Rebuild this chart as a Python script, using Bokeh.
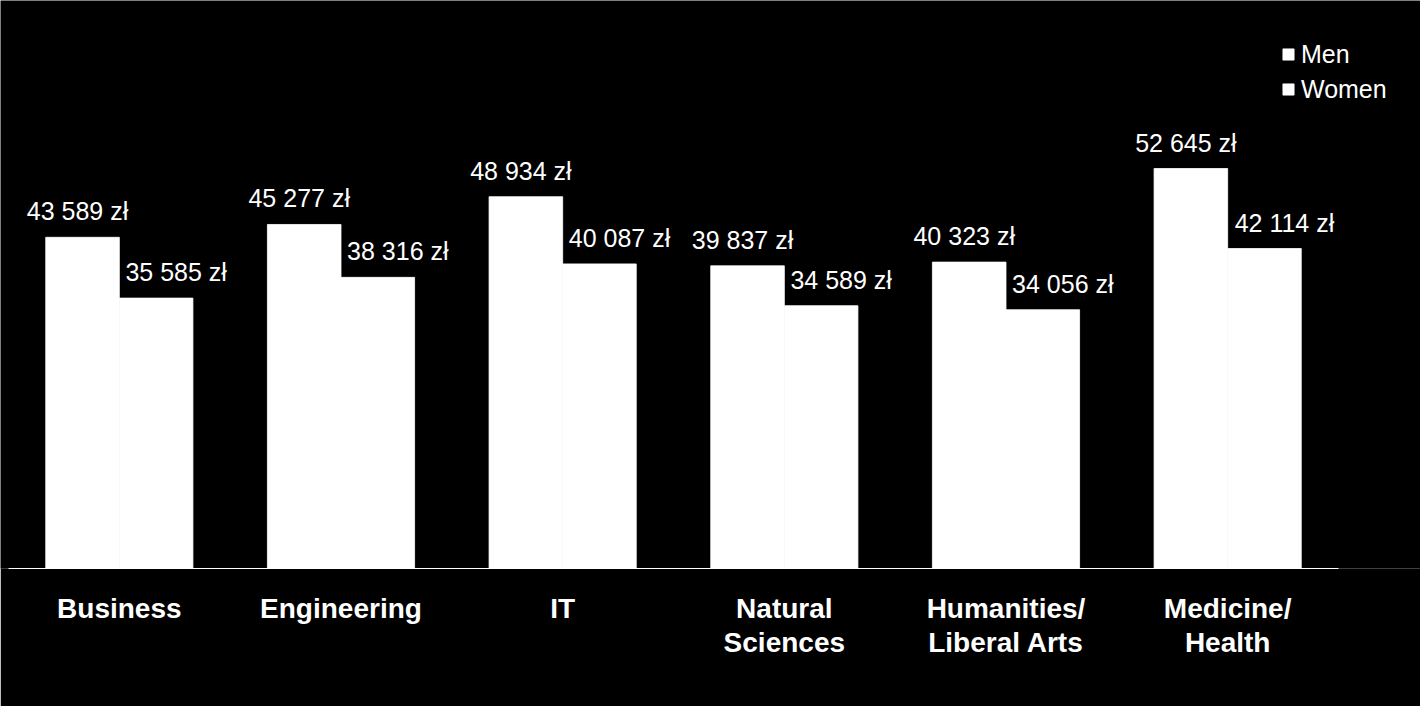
from bokeh.plotting import figure
from bokeh.models import ColumnDataSource, Range1d, Legend, LegendItem, FixedTicker
from bokeh.transform import dodge
from bokeh.embed import file_html
from bokeh.resources import INLINE
from bokeh.core.properties import value

categories = ["Business", "Engineering", "IT", "Natural\nSciences",
              "Humanities/\nLiberal Arts", "Medicine/\nHealth"]
men = [43589, 45277, 48934, 39837, 40323, 52645]
women = [35585, 38316, 40087, 34589, 34056, 42114]


def fmt(v):
    return f"{v:,}".replace(",", " ") + " zł"


n = len(categories)
centers = [i + 0.5 for i in range(n)]

src = ColumnDataSource(data=dict(
    x=centers, men=men, women=women,
    men_lbl=[fmt(v) for v in men], women_lbl=[fmt(v) for v in women],
))

# layout geometry (pixels)
PAGE_W, PAGE_H = 1420, 706
LEFT_PAD, CAT_W = 8, 1330
AXIS_Y = 568
PX_PER_UNIT = 400 / 52645  # bar pixels per zloty

ppc = CAT_W / n  # pixels per category
p = figure(width=PAGE_W, height=PAGE_H, output_backend="svg", toolbar_location=None,
           x_range=Range1d(-LEFT_PAD / ppc, (PAGE_W - LEFT_PAD) / ppc),
           y_range=Range1d(0, AXIS_Y / PX_PER_UNIT),
           min_border_left=0, min_border_right=0, min_border_top=0,
           min_border_bottom=PAGE_H - AXIS_Y,
           background_fill_color="black", border_fill_color="black")
p.outline_line_color = None
p.xgrid.visible = False
p.ygrid.visible = False
p.yaxis.visible = False

bw = 0.332
r_men = p.vbar(x=dodge("x", -bw / 2), top="men", width=bw, source=src,
               fill_color="white", line_color="white", line_width=0.8)
r_women = p.vbar(x=dodge("x", bw / 2), top="women", width=bw, source=src,
                 fill_color="white", line_color="white", line_width=0.8)

p.text(x=dodge("x", -bw / 2), y="men", text="men_lbl", source=src,
       text_color="white", text_font=value("Liberation Sans"), text_font_size="25px",
       text_align="center", text_baseline="alphabetic", x_offset=-5, y_offset=-26)
p.text(x=dodge("x", bw / 2), y="women", text="women_lbl", source=src,
       text_color="white", text_font=value("Liberation Sans"), text_font_size="25px",
       text_align="center", text_baseline="alphabetic", x_offset=20, y_offset=-26)

ax = p.xaxis[0]
ax.bounds = (0, n)
ax.ticker = FixedTicker(ticks=centers, minor_ticks=[])
ax.major_label_overrides = {c: lab for c, lab in zip(centers, categories)}
ax.axis_line_color = "white"
ax.axis_line_width = 1
ax.major_tick_line_color = None
ax.minor_tick_line_color = None
ax.major_tick_out = 0
ax.major_tick_in = 0
ax.major_label_standoff = 24
ax.major_label_text_color = "white"
ax.major_label_text_font = "Liberation Sans"
ax.major_label_text_font_style = "bold"
ax.major_label_text_font_size = "28px"
ax.major_label_text_line_height = 1.1

legend = Legend(items=[LegendItem(label="Men", renderers=[r_men]),
                       LegendItem(label="Women", renderers=[r_women])],
                location=(1281, 464), orientation="vertical",
                glyph_width=14, glyph_height=14, label_standoff=6,
                label_height=30, spacing=5, padding=0, margin=0,
                label_text_color="white", label_text_font="Liberation Sans",
                label_text_font_size="25px",
                background_fill_alpha=0, border_line_color=None)
p.add_layout(legend)

open("out.html", "w").write(file_html(p, INLINE))
